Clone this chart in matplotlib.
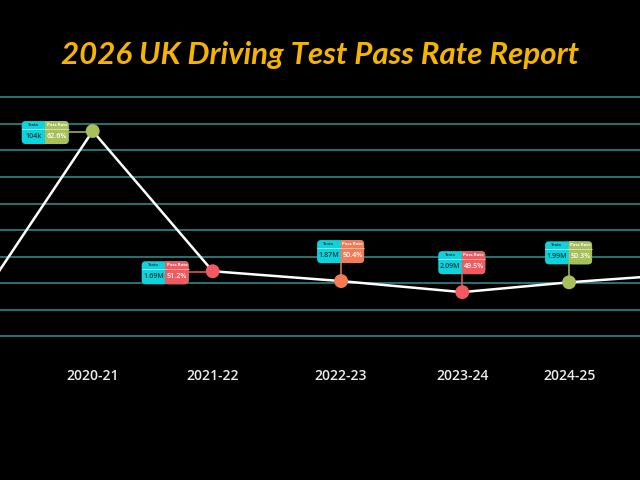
import numpy as np
import matplotlib.pyplot as plt
import matplotlib.transforms as mtransforms
from matplotlib.patches import FancyBboxPatch, Rectangle

# data
periods = ["2020-21", "2021-22", "2022-23", "2023-24", "2024-25"]
x_pos = [0.0, 1.0, 2.07, 3.08, 3.97]
pass_rate = [62.6, 51.2, 50.4, 49.5, 50.3]
tests = [104e3, 1.69e6, 1.87e6, 2.09e6, 1.99e6]
point_colors = ["#A9BF5A", "#F25A5F", "#F47B55", "#F25A5F", "#A9BF5A"]
label_side = ["left", "left", "top", "top", "top"]

# line continues off both edges of the chart
edge_x = [-1.0, 4.97]
edge_rate = [48.0, 51.0]

title = "2026 UK Driving Test Pass Rate Report"
CYAN = "#0CD3DC"
GRID = "#2C7C7B"


def fmt_tests(n):
    if n >= 1e6:
        return f"{n / 1e6:.2f}M"
    return f"{n / 1e3:.0f}k"


fig = plt.figure(figsize=(6.4, 4.8), dpi=100, facecolor="black")
ax = fig.add_axes([0, 118 / 480, 1, 282 / 480])
ax.set_facecolor("black")

line_x = [edge_x[0]] + x_pos + [edge_x[1]]
line_y = [edge_rate[0]] + pass_rate + [edge_rate[1]]
ax.plot(line_x, line_y, color="white", lw=1.8, zorder=3, solid_capstyle="round")
ax.scatter(x_pos, pass_rate, s=100, c=point_colors, zorder=6, linewidths=0)

ax.set_xlim(-0.7725, 4.561)
ax.set_ylim(43.82, 66.75)
ax.set_yticks(65.34 - 2.1585 * np.arange(10))
ax.yaxis.grid(True, color=GRID, lw=1.3)
ax.set_axisbelow(True)
ax.tick_params(axis="y", left=False, labelleft=False)
ax.set_xticks(x_pos)
ax.set_xticklabels(periods, fontsize=10, color="#EDEDED", family="Open Sans",
                   weight="semibold")
ax.tick_params(axis="x", length=0, pad=5)
for s in ax.spines.values():
    s.set_visible(False)


def callout(x, y, n, rate, color, side):
    # pixel units, origin at the point
    T = mtransforms.Affine2D().scale(fig.dpi / 100) + mtransforms.ScaledTranslation(x, y, ax.transData)
    if side == "left":
        x0, x1, y0, y1 = -71, -24, -13, 10
        ax.plot([x1, 0], [-1, -1], color=color, lw=1.1, transform=T, zorder=4, clip_on=False)
    else:
        x0, x1, y0, y1 = -24, 23, 18, 41
        ax.plot([0, 0], [y0, 0], color=color, lw=1.1, transform=T, zorder=4, clip_on=False)
    xm = (x0 + x1) / 2
    r = 4
    ax.add_patch(FancyBboxPatch((x0, y0), x1 - x0, y1 - y0,
                                boxstyle=f"round,pad=0,rounding_size={r}",
                                fc=CYAN, ec="none", transform=T, zorder=7, clip_on=False))
    ax.add_patch(FancyBboxPatch((xm, y0), x1 - xm, y1 - y0,
                                boxstyle=f"round,pad=0,rounding_size={r}",
                                fc=color, ec="none", transform=T, zorder=7, clip_on=False))
    ax.add_patch(Rectangle((xm, y0), r + 1, y1 - y0, fc=color, ec="none",
                           transform=T, zorder=7, clip_on=False))
    ysep = y1 - 7.5
    ax.plot([x0, x1], [ysep, ysep], color="white", lw=0.5, alpha=0.7,
            transform=T, zorder=8, clip_on=False)
    yh = (y1 + ysep) / 2
    yv = (y0 + ysep) / 2
    ax.text((x0 + xm) / 2, yh, "Tests", fontsize=3.2, color="#0E3B47", ha="center",
            va="center", transform=T, zorder=9, family="Open Sans", weight="bold")
    ax.text((xm + x1) / 2, yh, "Pass Rate", fontsize=3.2, color="white", ha="center",
            va="center", transform=T, zorder=9, family="Open Sans", weight="bold")
    ax.text((x0 + xm) / 2, yv, fmt_tests(n), fontsize=5.1, color="#0E3B47", ha="center",
            va="center", transform=T, zorder=9, family="Open Sans", weight="semibold")
    ax.text((xm + x1) / 2, yv, f"{rate:.1f}%", fontsize=5.1, color="white", ha="center",
            va="center", transform=T, zorder=9, family="Open Sans", weight="semibold")


for xi, yi, n, c, side in zip(x_pos, pass_rate, tests, point_colors, label_side):
    callout(xi, yi, n, yi, c, side)

fig.text(0.5, 1 - 55 / 480, title, ha="center", va="center", fontsize=22.5,
         color="#F5B400", style="italic", family="Lato", weight="bold")

fig.savefig("out.png", dpi=100, facecolor="black")
